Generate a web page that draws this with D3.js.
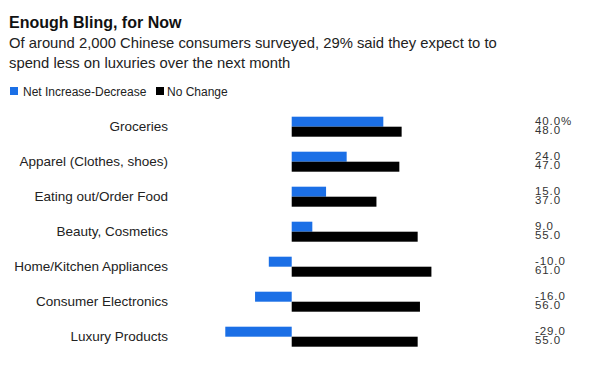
<!DOCTYPE html>
<html lang="en">
<head>
<meta charset="UTF-8">
<title>Enough Bling, for Now</title>
<style>
* { margin: 0; padding: 0; box-sizing: border-box; }
body { background: #fff; font-family: "Liberation Sans", Arial, sans-serif; overflow: hidden; }
svg { display: block; }
.title { font-size: 16px; font-weight: 700; fill: #111; }
.subtitle { font-size: 14.8px; fill: #222; }
.legend-label { font-size: 12px; fill: #222; }
.cat-label { font-size: 13.5px; fill: #222; }
.val-label { font-size: 11.5px; fill: #333; letter-spacing: 0.9px; }
</style>
</head>
<body>
<div id="chart"></div>
<script src="https://cdnjs.cloudflare.com/ajax/libs/d3/7.8.5/d3.min.js"></script>
<script>
// values
var categories = ["Groceries", "Apparel (Clothes, shoes)", "Eating out/Order Food",
	"Beauty, Cosmetics", "Home/Kitchen Appliances", "Consumer Electronics", "Luxury Products"];
var netChange = [40, 24, 15, 9, -10, -16, -29];
var noChange = [48, 47, 37, 55, 61, 56, 55];
var seriesNames = ["Net Increase-Decrease", "No Change"];
var seriesColors = ["#1b6fe6", "#000000"];

var width = 600, height = 391;

var svg = d3.select("#chart").append("svg")
	.attr("width", width)
	.attr("height", height);

svg.append("text").attr("class", "title")
	.attr("x", 9).attr("y", 28)
	.text("Enough Bling, for Now");

var subLines = ["Of around 2,000 Chinese consumers surveyed, 29% said they expect to to",
	"spend less on luxuries over the next month"];
svg.append("g").selectAll("text").data(subLines).join("text")
	.attr("class", "subtitle")
	.attr("x", 9)
	.attr("y", function(d, i) { return 48 + i * 20; })
	.text(function(d) { return d; });

// legend
var legendX = [10, 156];
var legend = svg.append("g").selectAll("g").data(seriesNames).join("g")
	.attr("transform", function(d, i) { return "translate(" + legendX[i] + ",87)"; });
legend.append("rect")
	.attr("width", 8).attr("height", 8)
	.attr("fill", function(d, i) { return seriesColors[i]; });
legend.append("text").attr("class", "legend-label")
	.attr("x", function(d, i) { return i === 0 ? 13 : 11; })
	.attr("y", 8.5)
	.text(function(d) { return d; });

// scales
var rows = categories.map(function(c, i) {
	return { name: c, net: netChange[i], none: noChange[i] };
});

var x = d3.scaleLinear().domain([-30, 62]).range([223, 433.7]);
var y = d3.scaleBand().domain(categories).range([109.2, 354.2]).padding(0);
var inner = d3.scaleBand().domain(["net", "none"])
	.range([0, y.bandwidth()]).paddingInner(0).paddingOuter(0.75);

var rowG = svg.append("g").selectAll("g").data(rows).join("g")
	.attr("transform", function(d) { return "translate(0," + y(d.name) + ")"; });

rowG.append("rect")
	.attr("x", function(d) { return x(Math.min(0, d.net)); })
	.attr("y", inner("net"))
	.attr("width", function(d) { return Math.abs(x(d.net) - x(0)); })
	.attr("height", inner.bandwidth())
	.attr("fill", seriesColors[0]);

rowG.append("rect")
	.attr("x", x(0))
	.attr("y", inner("none"))
	.attr("width", function(d) { return x(d.none) - x(0); })
	.attr("height", inner.bandwidth())
	.attr("fill", seriesColors[1]);

rowG.append("text").attr("class", "cat-label")
	.attr("x", 168)
	.attr("y", y.bandwidth() / 2 + 4.5)
	.attr("text-anchor", "end")
	.text(function(d) { return d.name; });

// value column: two tightly stacked numbers per row, as in the original
rowG.append("text").attr("class", "val-label")
	.attr("x", 535)
	.attr("y", y.bandwidth() / 2 - 2)
	.text(function(d, i) { return d.net.toFixed(1) + (i === 0 ? "%" : ""); });

rowG.append("text").attr("class", "val-label")
	.attr("x", 535)
	.attr("y", y.bandwidth() / 2 + 7)
	.text(function(d) { return d.none.toFixed(1); });
</script>
</body>
</html>
